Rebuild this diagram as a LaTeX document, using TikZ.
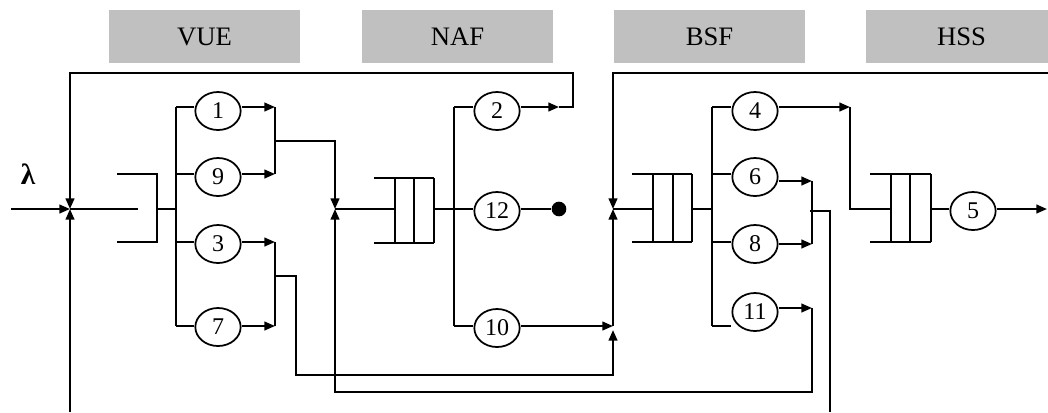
\documentclass[tikz,border=0pt]{standalone}
\usepackage{fontspec}
\setmainfont{Liberation Serif}
\usetikzlibrary{arrows.meta,shapes.geometric}
\definecolor{hdrgray}{HTML}{C0C0C0}
\tikzset{
  ln/.style={line width=1.6pt},
  arr/.style={ln,-{Triangle[length=8pt,width=6.5pt]}},
  srv/.style={draw,ellipse,line width=1.3pt,minimum width=34pt,minimum height=28.5pt,inner sep=0pt,font=\fontsize{18}{18}\selectfont},
  hdr/.style={fill=hdrgray,minimum width=143.25pt,minimum height=39.75pt,inner sep=0pt,font=\fontsize{20}{20}\selectfont},
}
\begin{document}
\begin{tikzpicture}[x=0.75pt,y=-0.75pt]
\useasboundingbox (0,0) rectangle (1048,412);
\clip (0,0) rectangle (1048,412);
% headers
\node[hdr] (hVUE) at (204.5,36.5) {VUE};
\node[hdr] (hNAF) at (457.5,36.5) {NAF};
\node[hdr] (hBSF) at (709.5,36.5) {BSF};
\node[hdr] (hHSS) at (961.5,36.5) {HSS};
% lambda
\node[font=\fontsize{22}{22}\selectfont\bfseries] (lam) at (28,174) {λ};
% servers
\node[srv] (n1) at (218,111) {1};
\node[srv] (n9) at (218,177) {9};
\node[srv] (n3) at (218,244) {3};
\node[srv] (n7) at (218,327) {7};
\node[srv] (n2) at (497,111) {2};
\node[srv] (n12) at (497,211) {12};
\node[srv] (n10) at (497,328) {10};
\node[srv] (n4) at (755,111) {4};
\node[srv] (n6) at (755,177) {6};
\node[srv] (n8) at (755,244) {8};
\node[srv] (n11) at (755,312) {11};
\node[srv] (n5) at (973,211) {5};
\node[circle,fill,inner sep=0pt,minimum size=11pt] (dot) at (559,209) {};
% junction coordinates
\coordinate (jL) at (70,209);
\coordinate (jA) at (335,209);
\coordinate (jB) at (613,209);
\coordinate (in) at (11,209);
\coordinate (botL) at (70,412);
\coordinate (vb1) at (176,107);
\coordinate (vb9) at (176,174);
\coordinate (vb3) at (176,242);
\coordinate (vb7) at (176,326);
\coordinate (vm1) at (275,107);
\coordinate (vm9) at (275,174);
\coordinate (vm3) at (275,242);
\coordinate (vm7) at (275,326);
\coordinate (nb2) at (454,107);
\coordinate (nb12) at (454,209);
\coordinate (nb10) at (454,326);
\coordinate (a2) at (559,107);
\coordinate (a10) at (613,326);
\coordinate (bb4) at (712,107);
\coordinate (bb6) at (712,174);
\coordinate (bb8) at (712,242);
\coordinate (bb11) at (712,326);
\coordinate (a4) at (850,107);
\coordinate (a6) at (812,181);
\coordinate (a8) at (812,244);
\coordinate (a11) at (812,308);
\coordinate (a5) at (1047,209);
\coordinate (topR) at (1048,73);
\coordinate (hq) at (931,209);
% input and feedback into VUE
\draw[arr] (in) -- (jL);
\draw[ln] (jL) -- (138,209);
\draw[arr] (a2) -- (573,107) -- (573,73) -- (70,73) -- (jL);
\draw[arr] (botL) -- (jL);
% VUE queue
\draw[ln] (117,174) -- (157,174) -- (157,242) -- (117,242);
\draw[ln] (157,209) -- (176,209);
\draw[ln] (vb1) -- (vb7);
\draw[ln] (vb1) -- (vb1 -| n1.west);
\draw[ln] (vb9) -- (vb9 -| n9.west);
\draw[ln] (vb3) -- (vb3 -| n3.west);
\draw[ln] (vb7) -- (vb7 -| n7.west);
\draw[arr] (vm1 -| n1.east) -- (vm1);
\draw[arr] (vm9 -| n9.east) -- (vm9);
\draw[arr] (vm3 -| n3.east) -- (vm3);
\draw[arr] (vm7 -| n7.east) -- (vm7);
\draw[ln] (vm1) -- (vm9);
\draw[ln] (vm3) -- (vm7);
\draw[arr] (275,141) -- (335,141) -- (jA);
\draw[arr] (275,276) -- (296,276) -- (296,375) -- (613,375) -- (613,330);
% NAF
\draw[ln] (jA) -- (395,209);
\draw[ln] (374,178) -- (434,178) (374,243) -- (434,243)
  (395,178) -- (395,243) (414,178) -- (414,243) (434,178) -- (434,243);
\draw[ln] (434,209) -- (nb12);
\draw[ln] (nb2) -- (nb10);
\draw[ln] (nb2) -- (nb2 -| n2.west);
\draw[ln] (nb12) -- (nb12 -| n12.west);
\draw[ln] (nb10) -- (nb10 -| n10.west);
\draw[arr] (a2 -| n2.east) -- (a2);
\draw[ln] (nb12 -| n12.east) -- (dot);
\draw[arr] (a10 -| n10.east) -- (a10);
\draw[arr] (a10) -- (jB);
\draw[arr] (topR) -- (613,73) -- (jB);
% bottom loop from 11
\draw[arr] (a11 -| n11.east) -- (a11);
\draw[arr] (a11) -- (812,392) -- (335,392) -- (jA);
% BSF
\draw[ln] (jB) -- (653,209);
\draw[ln] (632,174) -- (692,174) (632,242) -- (692,242)
  (653,174) -- (653,242) (673,174) -- (673,242) (692,174) -- (692,242);
\draw[ln] (692,209) -- (712,209);
\draw[ln] (bb4) -- (bb11);
\draw[ln] (bb4) -- (bb4 -| n4.west);
\draw[ln] (bb6) -- (bb6 -| n6.west);
\draw[ln] (bb8) -- (bb8 -| n8.west);
\draw[ln] (bb11) -- (bb11 -| n11.west);
\draw[arr] (a4 -| n4.east) -- (a4);
\draw[arr] (a6 -| n6.east) -- (a6);
\draw[arr] (a8 -| n8.east) -- (a8);
\draw[ln] (a6) -- (a8);
\draw[ln] (810,211) -- (830,211) -- (830,412);
% HSS
\draw[ln] (a4) -- (850,209) -- (891,209);
\draw[ln] (870,174) -- (931,174) (870,242) -- (931,242)
  (891,174) -- (891,242) (910,174) -- (910,242) (931,174) -- (931,242);
\draw[ln] (hq) -- (hq -| n5.west);
\draw[arr] (a5 -| n5.east) -- (a5);
\end{tikzpicture}
\end{document}
